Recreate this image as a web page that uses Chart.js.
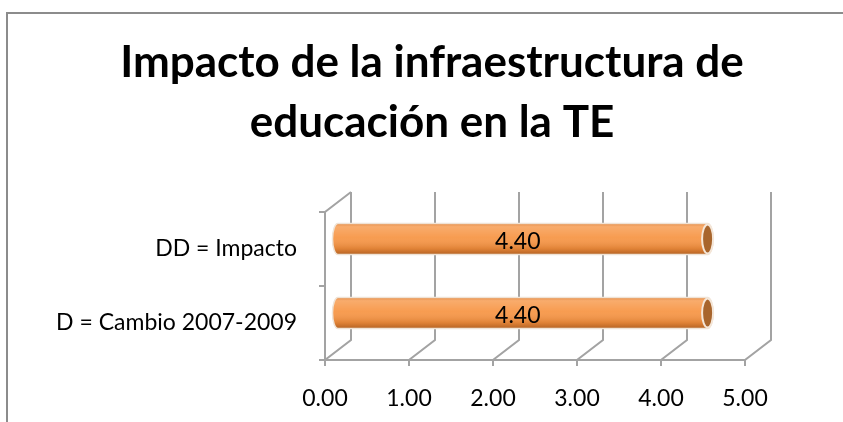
<!DOCTYPE html>
<html>
<head>
<meta charset="utf-8">
<script src="https://cdn.jsdelivr.net/npm/chart.js@4"></script>
<style>
  body { margin: 0; background: #fff; }
  canvas { display: block; }
</style>
</head>
<body>
<canvas id="chart" width="843" height="422"></canvas>
<script>
// Datos del gráfico
const categories = ["DD = Impacto", "D = Cambio 2007-2009"];
const values = [4.40, 4.40];
const tickValues = [0, 1, 2, 3, 4, 5];
const titleLines = ["Impacto de la infraestructura de", "educación en la TE"];

const FONT = "Lato, 'Noto Sans', sans-serif";
const DX = 26, DY = -20;        // profundidad de la pared del fondo
const LINE = "#a3a3a3";

// marco, paredes 3D y cilindros
const frame3d = {
  id: "frame3d",
  afterLayout(chart) {
    // deja sitio a las etiquetas largas a la izquierda
    chart.scales.y.left = 0;
  },
  beforeDraw(chart) {
    const ctx = chart.ctx;
    ctx.save();
    ctx.strokeStyle = "#8c8c8c";
    ctx.lineWidth = 2;
    ctx.beginPath();
    ctx.moveTo(7, 422);
    ctx.lineTo(7, 13);
    ctx.lineTo(843, 13);
    ctx.stroke();
    ctx.restore();
  },
  beforeDatasetsDraw(chart) {
    const ctx = chart.ctx;
    const a = chart.chartArea;
    const xs = chart.scales.x;
    ctx.save();
    ctx.strokeStyle = LINE;
    ctx.lineWidth = 2;
    ctx.beginPath();
    tickValues.forEach(v => {
      const x = xs.getPixelForValue(v);
      ctx.moveTo(x + DX, a.top + DY);
      ctx.lineTo(x + DX, a.bottom + DY);
      ctx.lineTo(x, a.bottom);
      ctx.lineTo(x, a.bottom + 6);
    });
    // eje frontal
    ctx.moveTo(a.left, a.bottom);
    ctx.lineTo(a.right, a.bottom);
    ctx.moveTo(a.left + DX, a.top + DY);
    ctx.lineTo(a.left, a.top);
    ctx.lineTo(a.left, a.bottom);
    // marcas del eje de categorías
    [a.top, (a.top + a.bottom) / 2, a.bottom].forEach(y => {
      ctx.moveTo(a.left - 6, y);
      ctx.lineTo(a.left, y);
    });
    ctx.stroke();
    ctx.restore();

    // barras a media profundidad
    ctx.save();
    ctx.translate(DX / 2, DY / 2);
  },
  afterDatasetsDraw(chart) {
    const ctx = chart.ctx;
    const meta = chart.getDatasetMeta(0);
    meta.data.forEach((bar, i) => {
      const p = bar.getProps(["x", "y", "base", "height"], true);
      const top = p.y - p.height / 2, h = p.height, rx = 5.5;
      const g = ctx.createLinearGradient(0, top, 0, top + h);
      g.addColorStop(0, "rgba(200,100,25,0.5)");
      g.addColorStop(0.12, "rgba(255,255,255,0.2)");
      g.addColorStop(0.45, "rgba(255,255,255,0.06)");
      g.addColorStop(0.8, "rgba(140,60,0,0.2)");
      g.addColorStop(1, "rgba(110,45,0,0.5)");
      // tapa izquierda
      ctx.beginPath();
      ctx.ellipse(p.base, p.y, rx, h / 2, 0, Math.PI / 2, Math.PI * 1.5);
      ctx.fillStyle = "#f79646";
      ctx.fill();
      ctx.fillStyle = g;
      ctx.fill();
      ctx.fillRect(p.base, top, p.x - p.base, h);
      // contorno claro
      ctx.beginPath();
      ctx.ellipse(p.base, p.y, rx, h / 2, 0, Math.PI / 2, Math.PI * 1.5);
      ctx.lineTo(p.x, top);
      ctx.ellipse(p.x, p.y, rx, h / 2, 0, -Math.PI / 2, Math.PI / 2);
      ctx.closePath();
      ctx.strokeStyle = "#efe3d6";
      ctx.lineWidth = 1.5;
      ctx.stroke();
      // tapa derecha
      ctx.beginPath();
      ctx.ellipse(p.x, p.y, rx, h / 2 - 1, 0, 0, Math.PI * 2);
      ctx.fillStyle = "#a8652c";
      ctx.fill();
      ctx.strokeStyle = "#f4e6d8";
      ctx.lineWidth = 2;
      ctx.stroke();
      // etiqueta de valor
      ctx.fillStyle = "#000";
      ctx.font = "23px " + FONT;
      ctx.textAlign = "center";
      ctx.textBaseline = "middle";
      ctx.fillText(values[i].toFixed(2), (p.base + p.x) / 2 - 5, p.y + 3);
    });
    ctx.restore();
  }
};

new Chart(document.getElementById("chart"), {
  type: "bar",
  data: {
    labels: categories,
    datasets: [{
      data: values,
      backgroundColor: "#f79646",
      borderWidth: 0,
      barThickness: 31
    }]
  },
  options: {
    indexAxis: "y",
    responsive: false,
    animation: false,
    layout: { padding: { left: 119, right: 98, top: 0, bottom: 0 } },
    plugins: {
      legend: { display: false },
      tooltip: { enabled: false },
      title: {
        display: true,
        text: titleLines,
        color: "#000",
        font: { family: FONT, size: 44, weight: "bold", lineHeight: 60 / 44 },
        padding: { top: 33, bottom: 59 }
      }
    },
    scales: {
      x: {
        min: 0,
        max: 5,
        afterFit: s => { s.height = 62; },
        afterBuildTicks: s => { s.ticks = tickValues.map(v => ({ value: v })); },
        grid: { display: false },
        border: { display: false },
        ticks: {
          padding: 17,
          color: "#000",
          font: { family: FONT, size: 23 },
          callback: v => Number(v).toFixed(2),
          maxRotation: 0
        }
      },
      y: {
        afterFit: s => { s.width = 206; },
        grid: { display: false },
        border: { display: false },
        ticks: {
          padding: 20,
          color: "#000",
          font: { family: FONT, size: 23 }
        }
      }
    }
  },
  plugins: [frame3d]
});
</script>
</body>
</html>
